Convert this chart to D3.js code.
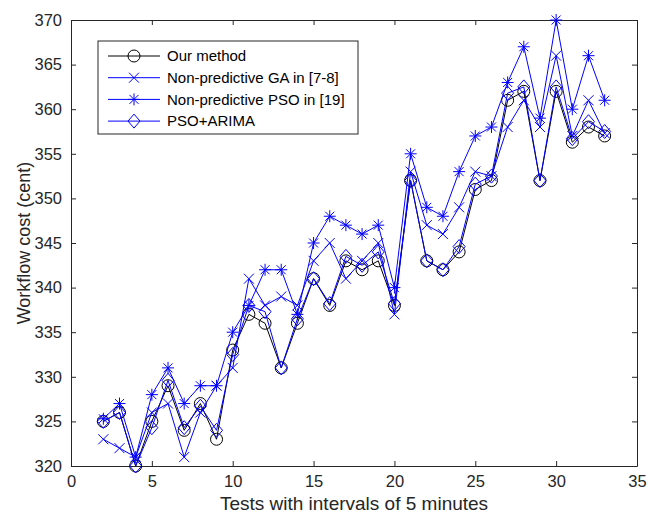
<!DOCTYPE html>
<html>
<head>
<meta charset="utf-8">
<script src="https://cdn.jsdelivr.net/npm/d3@7"></script>
<style>
  body { margin: 0; background: #fff; }
  svg { display: block; font-family: "Liberation Sans", Arial, sans-serif; }
</style>
</head>
<body>
<section></section>
<script>
(function() {
  var W = 650, H = 519;
  var tests = [2, 3, 4, 5, 6, 7, 8, 9, 10, 11, 12, 13, 14, 15, 16, 17, 18, 19, 20, 21, 22, 23, 24, 25, 26, 27, 28, 29, 30, 31, 32, 33];
  var ourMethod = [325, 326, 320, 325, 329, 324, 327, 323, 333, 337, 336, 331, 336, 341, 338, 343, 342, 343, 338, 352, 343, 342, 344, 351, 352, 361, 362, 352, 362, 356.3, 358, 357];
  var gaNonPred = [323, 322, 321, 326, 327, 321, 326, 329, 331, 341, 338, 339, 338, 343, 345, 341, 343, 345, 337, 353, 347, 346, 349, 353, 352.5, 358, 361, 358, 366, 357, 361, 357.3];
  var psoNonPred = [325.3, 327, 321, 328, 331, 327, 329, 329, 335, 338, 342, 342, 337, 345, 348, 347, 346, 347, 340, 355, 349, 348, 353, 357, 358, 363, 367, 359, 370, 360, 366, 361];
  var psoArima = [325, 326, 320, 324.3, 329.6, 324.3, 326.7, 324, 332.5, 338, 337.3, 331, 336.5, 341, 338.2, 343.5, 342.5, 344, 338.2, 352, 343, 342, 344.6, 351.6, 352.5, 361.8, 362.5, 352, 362.5, 356.7, 358.6, 357.5];
  var seriesNames = ['Our method', 'Non-predictive GA in [7-8]', 'Non-predictive PSO in [19]', 'PSO+ARIMA'];
  var xTicks = [0, 5, 10, 15, 20, 25, 30, 35];
  var yTicks = [320, 325, 330, 335, 340, 345, 350, 355, 360, 365, 370];

  var AX = '#262626';
  var left = 71, right = 637, top = 20, bottom = 466;

  var series = [
    { name: seriesNames[0], values: ourMethod, color: '#000000', marker: 'circle' },
    { name: seriesNames[1], values: gaNonPred, color: '#0000ff', marker: 'x' },
    { name: seriesNames[2], values: psoNonPred, color: '#0000ff', marker: 'star' },
    { name: seriesNames[3], values: psoArima, color: '#0000ff', marker: 'diamond' }
  ];

  var svg = d3.select('section').append('svg').attr('width', W).attr('height', H);
  var x = d3.scaleLinear().domain([0, 35]).range([left, right]);
  var y = d3.scaleLinear().domain([320, 370]).range([bottom, top]);

  // marker path generator, centred on 0,0
  var markerPath = function(type) {
    if (type === 'circle') return 'M-6,0A6,6 0 1,0 6,0A6,6 0 1,0 -6,0Z';
    if (type === 'x') return 'M-5,-5L5,5M-5,5L5,-5';
    if (type === 'star') return 'M-6,0L6,0M0,-6L0,6M-4.5,-4.5L4.5,4.5M-4.5,4.5L4.5,-4.5';
    return 'M0,-7L6,0L0,7L-6,0Z';
  };

  // axes (MATLAB box with inward ticks)
  var xAxis = d3.axisBottom(x).tickValues(xTicks).tickSizeInner(-5).tickSizeOuter(0).tickPadding(9);
  var xAxisTop = d3.axisTop(x).tickValues(xTicks).tickSizeInner(-5).tickSizeOuter(0).tickFormat('');
  var yAxis = d3.axisLeft(y).tickValues(yTicks).tickSizeInner(-5).tickSizeOuter(0).tickPadding(9);
  var yAxisRight = d3.axisRight(y).tickValues(yTicks).tickSizeInner(-5).tickSizeOuter(0).tickFormat('');

  var gx = svg.append('g').attr('transform', 'translate(0,' + bottom + ')').call(xAxis);
  var gxt = svg.append('g').attr('transform', 'translate(0,' + top + ')').call(xAxisTop);
  var gy = svg.append('g').attr('transform', 'translate(' + left + ',0)').call(yAxis);
  var gyr = svg.append('g').attr('transform', 'translate(' + right + ',0)').call(yAxisRight);
  [gx, gxt, gy, gyr].forEach(function(g) {
    g.selectAll('path, line').attr('stroke', AX).attr('stroke-width', 1);
    g.selectAll('text').attr('fill', AX).style('font-size', '16.5px').style('font-family', '"Liberation Sans", Arial, sans-serif');
  });

  // lines and markers
  var line = d3.line().x(function(d) { return x(d[0]); }).y(function(d) { return y(d[1]); });
  series.forEach(function(s) {
    var pts = tests.map(function(t, i) { return [t, s.values[i]]; });
    var g = svg.append('g');
    g.append('path').datum(pts).attr('d', line).attr('fill', 'none')
      .attr('stroke', s.color).attr('stroke-width', 1);
    g.selectAll('path.mk').data(pts).enter().append('path').attr('class', 'mk')
      .attr('d', markerPath(s.marker))
      .attr('transform', function(d) { return 'translate(' + x(d[0]) + ',' + y(d[1]) + ')'; })
      .attr('fill', 'none').attr('stroke', s.color).attr('stroke-width', 1);
  });

  // axis labels
  svg.append('text').attr('x', (left + right) / 2).attr('y', 510).attr('text-anchor', 'middle')
    .attr('fill', AX).style('font-size', '19px').text('Tests with intervals of 5 minutes');
  svg.append('text').attr('transform', 'translate(30,' + (top + bottom) / 2 + ') rotate(-90)')
    .attr('text-anchor', 'middle').attr('fill', AX).style('font-size', '18px').text('Workflow cost (cent)');

  // legend
  var lg = svg.append('g');
  lg.append('rect').attr('x', 98).attr('y', 41).attr('width', 260).attr('height', 93)
    .attr('fill', '#fff').attr('stroke', AX).attr('stroke-width', 1);
  series.forEach(function(s, i) {
    var ly = 56 + i * 21.7;
    lg.append('line').attr('x1', 108).attr('x2', 160).attr('y1', ly).attr('y2', ly)
      .attr('stroke', s.color).attr('stroke-width', 1);
    lg.append('path').attr('d', markerPath(s.marker)).attr('transform', 'translate(134,' + ly + ')')
      .attr('fill', 'none').attr('stroke', s.color).attr('stroke-width', 1);
    lg.append('text').attr('x', 167).attr('y', ly).attr('dy', '0.35em').attr('fill', '#000')
      .style('font-size', '15px').text(s.name);
  });
}).call(this);
</script>
</body>
</html>
